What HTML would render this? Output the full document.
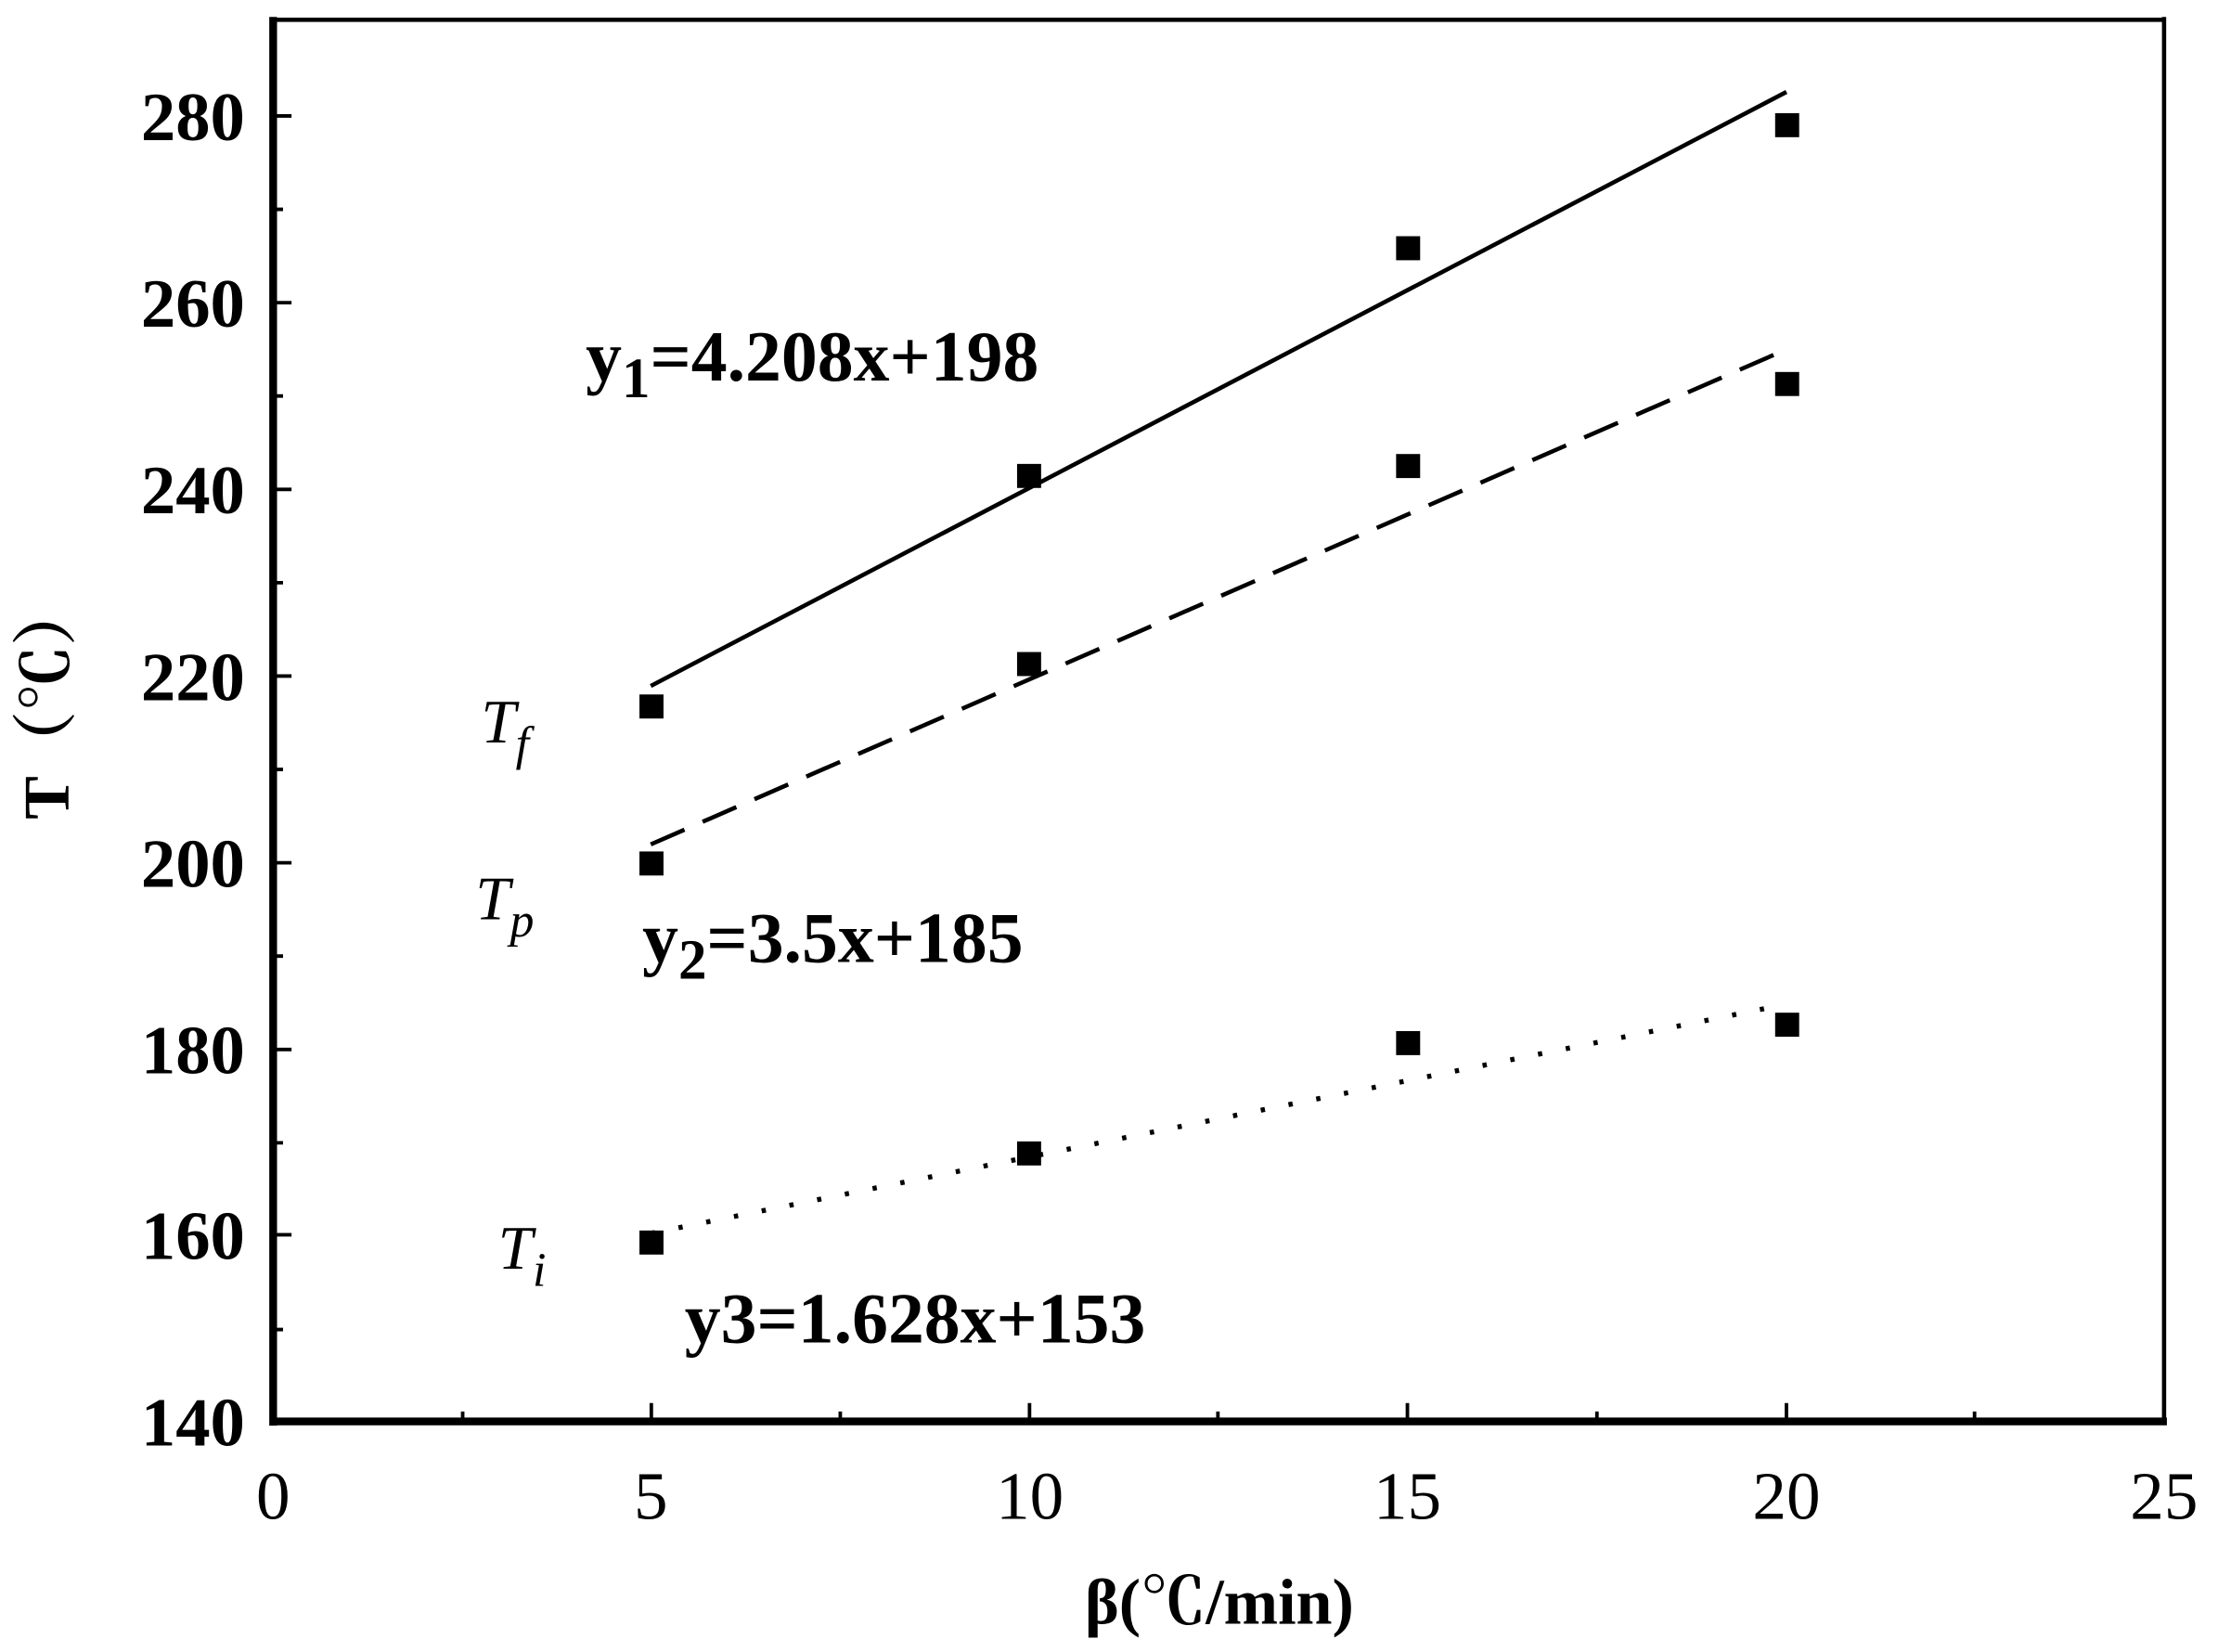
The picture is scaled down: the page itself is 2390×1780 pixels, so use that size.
<!DOCTYPE html>
<html><head><meta charset="utf-8"><style>html,body{margin:0;padding:0;background:#fff}svg{display:block}</style></head>
<body>
<svg width="2390" height="1780" viewBox="0 0 1568 1168" xmlns="http://www.w3.org/2000/svg">
<rect width="1568" height="1168" fill="#fff"/>
<g stroke="#000" fill="none">
<line x1="193" y1="1005" x2="1532" y2="1005" stroke-width="5.5"/>
<line x1="193" y1="12" x2="193" y2="1008" stroke-width="5.5"/>
<line x1="193" y1="14" x2="1530" y2="14" stroke-width="3"/>
<line x1="1530" y1="12" x2="1530" y2="1007" stroke-width="3"/>
<g stroke-width="2.5">
<path d="M460.4 1005V992M727.8 1005V992M995 1005V992M1263 1005V992M1530 1005V992"/>
<path d="M327 1005V998M594 1005V998M861 1005V998M1129 1005V998M1396 1005V998"/>
<path d="M193 82H206M193 214H206M193 346H206M193 478H206M193 610H206M193 742H206M193 873H206"/>
<path d="M193 148H200M193 280H200M193 412H200M193 544H200M193 676H200M193 808H200M193 940H200"/>
</g>
<line x1="460" y1="485" x2="1263" y2="65" stroke-width="3"/>
<line x1="460" y1="597" x2="1263" y2="247" stroke-width="3" stroke-dasharray="26,14"/>
<line x1="460" y1="872" x2="1263" y2="710" stroke-width="3.5" stroke-dasharray="3,17"/>
</g>
<g fill="#000">
<rect x="452" y="491" width="17" height="17"/><rect x="719" y="328" width="17" height="17"/><rect x="987" y="167" width="17" height="17"/><rect x="1255" y="80" width="17" height="17"/>
<rect x="452" y="602" width="17" height="17"/><rect x="719" y="461" width="17" height="17"/><rect x="987" y="321" width="17" height="17"/><rect x="1255" y="263" width="17" height="17"/>
<rect x="452" y="870" width="17" height="17"/><rect x="719" y="807" width="17" height="17"/><rect x="987" y="729" width="17" height="17"/><rect x="1255" y="716" width="17" height="17"/>
</g>
<g font-family="Liberation Serif, serif" font-size="49" font-weight="bold" text-anchor="end">
<text x="173" y="99">280</text><text x="173" y="231">260</text><text x="173" y="363">240</text><text x="173" y="495">220</text><text x="173" y="627">200</text><text x="173" y="759">180</text><text x="173" y="890">160</text><text x="173" y="1022">140</text>
</g>
<g font-family="Liberation Serif, serif" font-size="48" text-anchor="middle">
<text x="193" y="1074">0</text><text x="460" y="1074">5</text><text x="728" y="1074">10</text><text x="995" y="1074">15</text><text x="1263" y="1074">20</text><text x="1530" y="1074">25</text>
</g>
<text x="862" y="1148" font-family="Liberation Serif, 'Noto Serif CJK SC', serif" font-size="46" font-weight="bold" text-anchor="middle">β(℃/min)</text>
<text transform="translate(48,495) rotate(-90)" font-family="Liberation Serif, 'Noto Serif CJK SC', serif" font-size="46" font-weight="bold" text-anchor="middle">T（℃）</text>
<g font-family="Liberation Serif, serif" font-size="51" font-weight="bold">
<text x="414" y="269">y<tspan font-size="40" dy="12">1</tspan><tspan dy="-12">=4.208x+198</tspan></text>
<text x="454" y="680">y<tspan font-size="40" dy="12">2</tspan><tspan dy="-12">=3.5x+185</tspan></text>
<text x="484" y="949">y3=1.628x+153</text>
</g>
<g font-family="Liberation Serif, serif" font-size="44" font-style="italic">
<text x="340" y="525">T<tspan font-size="34" dy="12">f</tspan></text>
<text x="336" y="650">T<tspan font-size="34" dy="12">p</tspan></text>
<text x="352" y="897">T<tspan font-size="34" dy="12">i</tspan></text>
</g>
</svg>
</body></html>
